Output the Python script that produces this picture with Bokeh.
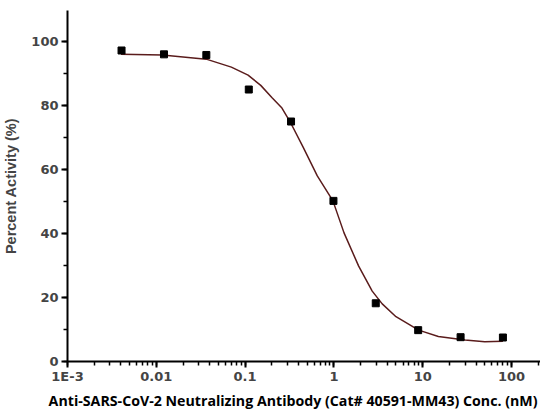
from bokeh.plotting import figure
from bokeh.models import LogTicker, SingleIntervalTicker, Range1d, Title
from bokeh.embed import file_html
from bokeh.resources import INLINE

# measured data (concentration nM, percent activity)
conc = [0.00406, 0.0122, 0.0366, 0.110, 0.329, 0.988, 2.96, 8.89, 26.7, 80.0]
activity = [97.2, 96.0, 95.8, 85.0, 75.0, 50.2, 18.2, 9.8, 7.6, 7.5]

# fitted curve
curve_x = [0.004, 0.0117, 0.0365, 0.07, 0.108, 0.15, 0.2, 0.26, 0.32, 0.45,
           0.65, 0.975, 1.3, 1.9, 2.7, 3.5, 5.0, 9.0, 15.0, 30.0, 50.0, 80.0]
curve_y = [96.0, 95.8, 94.5, 92.0, 89.5, 86.3, 82.5, 79.2, 75.0, 67.0,
           58.0, 50.2, 40.2, 29.8, 22.0, 18.0, 14.0, 9.8, 7.8, 6.7, 6.2, 6.3]

x_ticks = [0.001, 0.01, 0.1, 1, 10, 100]
x_tick_labels = ["1E-3", "0.01", "0.1", "1", "10", "100"]
x_title = "Anti-SARS-CoV-2 Neutralizing Antibody (Cat# 40591-MM43) Conc. (nM)"
y_title = "Percent Activity (%)"

p = figure(width=540, height=414, x_axis_type="log",
           x_range=Range1d(0.001, 212), y_range=Range1d(0, 109.7),
           output_backend="svg", toolbar_location=None,
           min_border_left=66, min_border_right=0, min_border_top=10,
           min_border_bottom=53)
p.outline_line_color = None
p.xgrid.visible = False
p.ygrid.visible = False

p.line(curve_x, curve_y, line_color="#5a1c1c", line_width=1.5)
p.scatter(conc, activity, marker="square", size=7, fill_color="black",
          line_color="black")

ax = p.xaxis[0]
ax.ticker = LogTicker(desired_num_ticks=6, num_minor_ticks=10)
ax.major_label_overrides = {t: l for t, l in zip(x_ticks, x_tick_labels)}
ax.major_label_text_font = "DejaVu Sans"
ax.major_label_text_font_style = "bold"
ax.major_label_text_font_size = "13px"
ax.major_label_standoff = 1
ax.major_tick_out = 6
ax.major_tick_in = 0
ax.minor_tick_out = 4
ax.minor_tick_in = 0
ax.axis_line_width = 2
ax.major_tick_line_width = 2
ax.minor_tick_line_width = 1.5

xt = Title(text=x_title, align="right", offset=3, standoff=4,
           text_font="Open Sans", text_font_style="bold",
           text_font_size="14.2px", text_color="black")
p.add_layout(xt, "below")

ay = p.yaxis[0]
ay.ticker = SingleIntervalTicker(interval=20, num_minor_ticks=2)
ay.axis_label = y_title
ay.axis_label_text_font = "Liberation Sans"
ay.axis_label_text_font_style = "bold"
ay.axis_label_text_font_size = "14.5px"
ay.axis_label_standoff = 9
ay.major_label_text_font = "DejaVu Sans"
ay.major_label_text_font_style = "bold"
ay.major_label_text_font_size = "13px"
ay.major_label_standoff = 3
ay.major_tick_out = 6
ay.major_tick_in = 0
ay.minor_tick_out = 4
ay.minor_tick_in = 0
ay.axis_line_width = 2
ay.major_tick_line_width = 2
ay.minor_tick_line_width = 1.5

open("out.html", "w").write(file_html(p, INLINE))
